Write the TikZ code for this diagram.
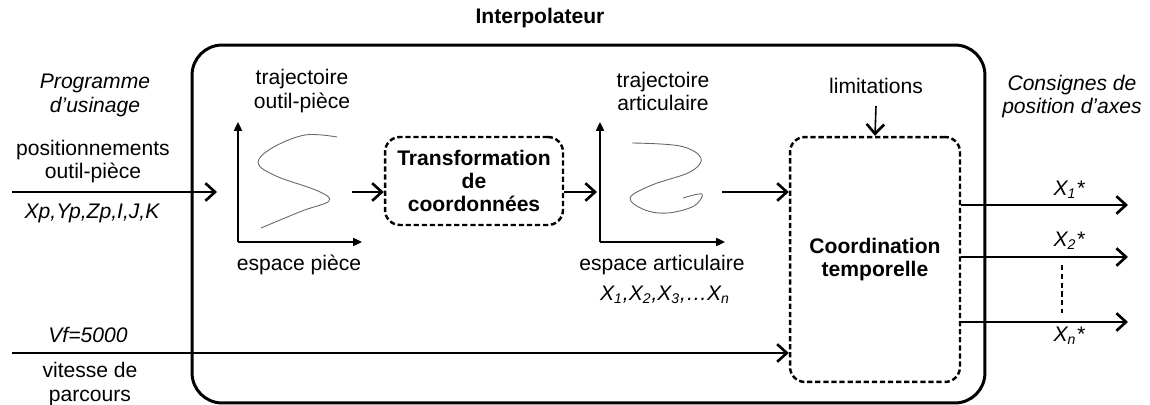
\documentclass[tikz,border=0pt]{standalone}
\usepackage{fontspec}
\setmainfont{Liberation Sans}
\usetikzlibrary{arrows.meta,positioning}
\newcommand{\axe}[1]{X\textsubscript{#1}}
\tikzset{
  bloc/.style={
    draw=black, line width=1.4pt, dash pattern=on 3pt off 1.6pt,
    rounded corners=0.3cm, font=\fontsize{12}{13.2}\selectfont\bfseries,
  },
  flux/.style={line width=1.3pt, -{Straight Barb[length=5.5pt,width=10pt,line width=1.5pt]}},
  repere/.style={line width=1.1pt, -{Triangle[length=5pt,width=4.5pt]}},
}

\begin{document}
\begin{tikzpicture}[x=0.02cm, y=-0.02cm, every node/.style={font=\fontsize{12}{13.2}\selectfont, align=center, inner sep=0pt}, courbe/.style={draw=gray!80!black, line width=0.5pt, smooth, tension=0.6}]
\useasboundingbox (0,0) rectangle (1150,405);
\node [font=\fontsize{12}{13.2}\selectfont\bfseries] (titre) at (540,18) {Interpolateur};
\node [draw, line width=1.7pt, rounded corners=0.6cm, minimum width=15.86cm, minimum height=7.16cm] (interp) at (588.5,224) {};
\node [bloc, minimum width=3.56cm, minimum height=1.76cm] (transfo) at (474,181) {Transformation\\de\\coordonnées};
\node [bloc, minimum width=3.4cm, minimum height=4.9cm] (coord) at (875,259.5) {Coordination\\temporelle};

% entrees
\node [font=\fontsize{12}{13.2}\selectfont\itshape] (prog) at (95,95.5) {Programme\\d’usinage};
\node (posit) at (93,161.5) {positionnements\\outil-pièce};
\node [font=\fontsize{12}{13.2}\selectfont\itshape] (xyz) at (92,213) {Xp,Yp,Zp,I,J,K};
\node [font=\fontsize{12}{13.2}\selectfont\itshape] (vf) at (88,335) {Vf=5000};
\node (vit) at (90,384) {vitesse de\\parcours};
\coordinate (e1) at (12,192);
\coordinate (e2) at (12,353);

% espace piece
\coordinate (o1) at (238,242);
\node (traj1) at (302,91) {trajectoire\\outil-pièce};
\node (esp1) at (299,265) {espace pièce};
\draw [repere] (o1) -- (238,122);
\draw [repere] (o1) -- (362,242);
\draw [courbe] plot coordinates {(337,137) (305,135) (272,148) (258,163) (276,176) (318,191) (329,201) (302,211) (261,228)};
\coordinate (g1in) at (217,192);
\coordinate (g1out) at (352,192);

% espace articulaire
\coordinate (o2) at (600,242);
\node (traj2) at (663,91.5) {trajectoire\\articulaire};
\node (esp2) at (662,265) {espace articulaire};
\node [font=\fontsize{12}{13.2}\selectfont\itshape] (xart) at (665,295) {\axe{1},\axe{2},\axe{3},…\axe{n}};
\draw [repere] (o2) -- (600,122);
\draw [repere] (o2) -- (725,242);
\draw [courbe] plot coordinates {(632,143) (680,146) (701,158) (690,172) (652,185) (630,198) (645,210) (668,213) (694,206) (702,194) (683,198)};
\coordinate (g2in) at (597,192);
\coordinate (g2out) at (722,192);

% sorties
\node (lim) at (876,86) {limitations};
\coordinate (limb) at (876,106);
\node [font=\fontsize{12}{13.2}\selectfont\itshape] (consig) at (1072,96.5) {Consignes de\\position d’axes};
\node [font=\fontsize{12}{13.2}\selectfont\itshape] (s1) at (1069,190) {\axe{1}*};
\node [font=\fontsize{12}{13.2}\selectfont\itshape] (s2) at (1069,241) {\axe{2}*};
\node [font=\fontsize{12}{13.2}\selectfont\itshape] (sn) at (1069,336) {\axe{n}*};
\coordinate (f1) at (1128,205);
\coordinate (f2) at (1128,257);
\coordinate (fn) at (1128,322);

\draw [flux] (e1) -- (g1in);
\draw [flux] (g1out) -- (transfo.west |- g1out);
\draw [flux] (transfo.east |- g2in) -- (g2in);
\draw [flux] (g2out) -- (coord.west |- g2out);
\draw [flux, line width=0.9pt] (e2) -- (coord.west |- e2);
\draw [flux, line width=0.9pt] (limb) -- (coord.north);
\draw [flux] (coord.east |- f1) -- (f1);
\draw [flux] (coord.east |- f2) -- (f2);
\draw [flux] (coord.east |- fn) -- (fn);
\draw [line width=0.8pt, dash pattern=on 3pt off 2pt] (1062,265) -- (1062,313);
\end{tikzpicture}
\end{document}
